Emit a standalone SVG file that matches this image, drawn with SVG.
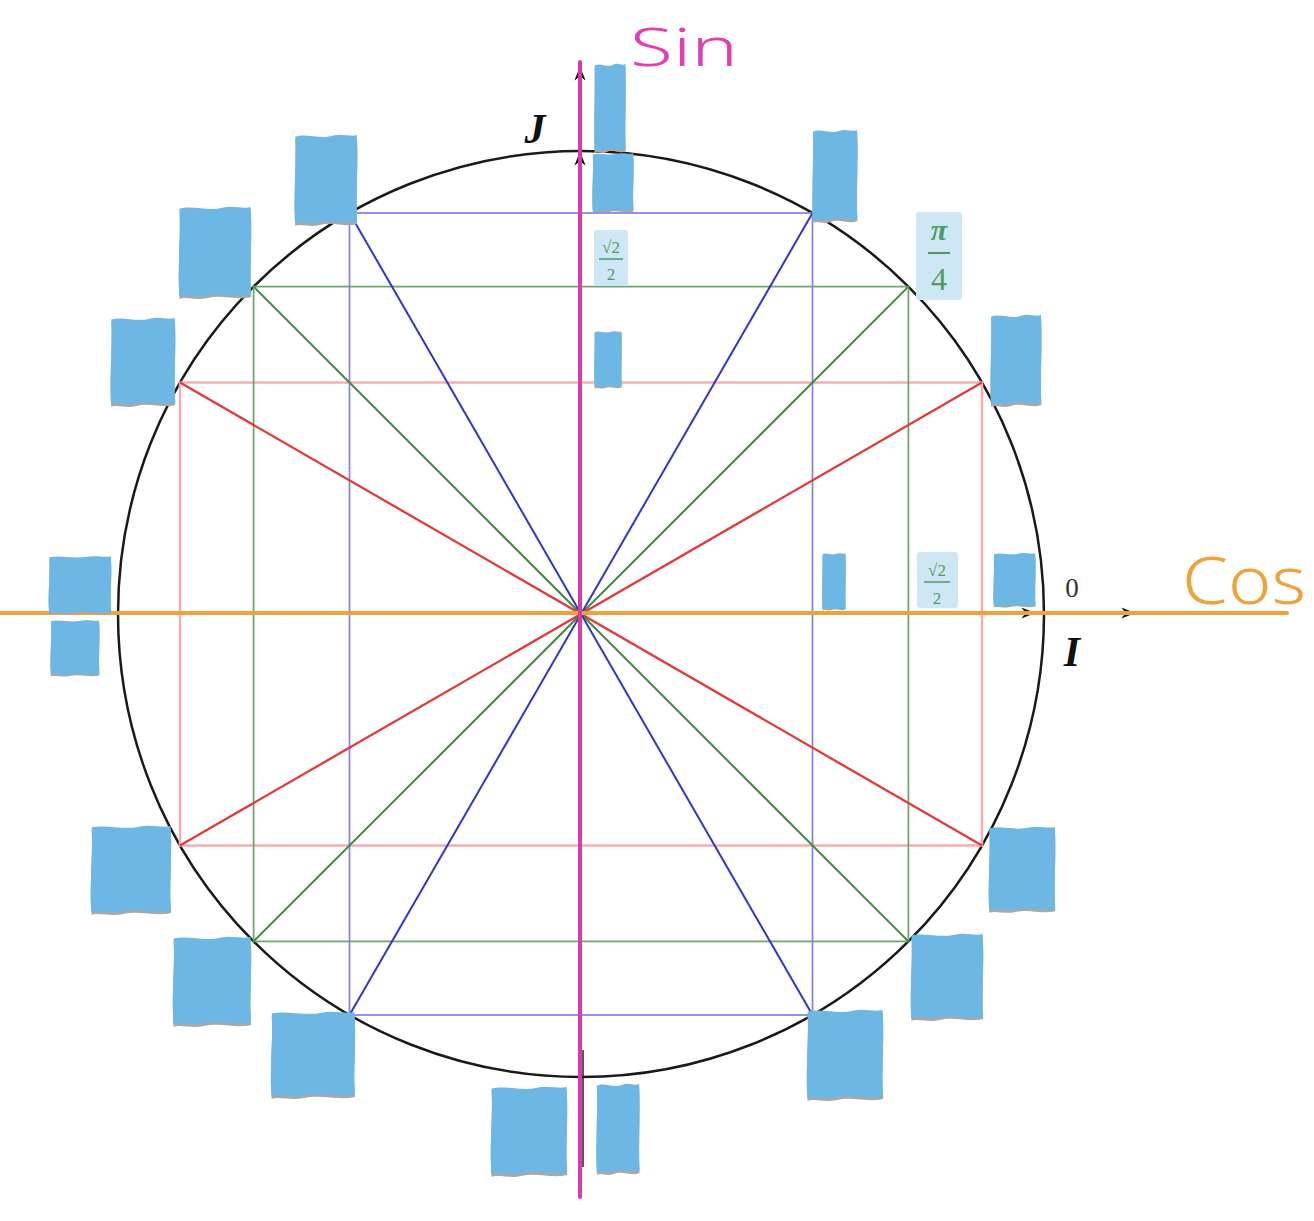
<svg xmlns="http://www.w3.org/2000/svg" width="1314" height="1221" viewBox="0 0 1314 1221">
<style>
.circ{fill:none;stroke:#1a1a1a;stroke-width:2.5}
.rr{stroke:#f4aeb0;stroke-width:2.5;fill:none}
.gr{stroke:#6fa86f;stroke-width:1.8;fill:none}
.br{stroke:#8a85e0;stroke-width:1.8;fill:none}
.rd{stroke:#e23a3a;stroke-width:2.3}
.gd{stroke:#3f8a3f;stroke-width:2}
.bd{stroke:#3434c4;stroke-width:2}
.lbl{fill:#cde7f5}
.lt{font-family:"Liberation Serif",serif;fill:#4f9a62;text-anchor:middle}
.hand{font-family:"Noto Sans",sans-serif;font-weight:300}
</style>
<defs>
<path id="blobp" d="M2,4 C20,0 40,7 60,3 C75,0 90,5 98,2 C101,30 96,70 99,96 C80,100 60,93 40,97 C25,100 10,95 2,98 C-1,70 4,30 2,4 Z"/>
<g id="blob"><use href="#blobp" fill="#a8a8a8" transform="translate(0,3)"/><use href="#blobp" fill="#6cb7e3"/></g>
<marker id="ah" viewBox="0 0 10 10" refX="9" refY="5" markerWidth="16" markerHeight="14" markerUnits="userSpaceOnUse" orient="auto"><path d="M0,1 L10,5 L0,9 L3,5 Z" fill="#111"/></marker>
</defs>

<g id="circle"><circle class="circ" cx="581" cy="614" r="463"/></g>

<g id="rectangles">
<rect class="rr" x="180" y="382.5" width="802" height="463"/>
<rect class="gr" x="253.6" y="286.6" width="654.8" height="654.8"/>
<rect class="br" x="349.5" y="213" width="463" height="802"/>
</g>

<g id="connectors">
<line class="rd" x1="982" y1="382.5" x2="180" y2="845.5"/>
<line class="rd" x1="180" y1="382.5" x2="982" y2="845.5"/>
<line class="gd" x1="908.4" y1="286.6" x2="253.6" y2="941.4"/>
<line class="gd" x1="253.6" y1="286.6" x2="908.4" y2="941.4"/>
<line class="bd" x1="812.5" y1="213" x2="349.5" y2="1015"/>
<line class="bd" x1="349.5" y1="213" x2="812.5" y2="1015"/>
<line x1="583" y1="1050" x2="583" y2="1167" stroke="#222" stroke-width="1.5"/>
<line x1="1000" y1="613" x2="1034" y2="613" stroke="#111" stroke-width="1" marker-end="url(#ah)"/>
<line x1="1100" y1="613" x2="1134" y2="613" stroke="#111" stroke-width="1" marker-end="url(#ah)"/>
<line x1="580" y1="185" x2="580" y2="153" stroke="#111" stroke-width="1" marker-end="url(#ah)"/>
<line x1="580" y1="100" x2="580" y2="68" stroke="#111" stroke-width="1" marker-end="url(#ah)"/>
<line id="cos-axis" x1="0" y1="613" x2="1287" y2="613" stroke="#eca33c" stroke-width="4" stroke-linecap="round"/>
<line id="sin-axis" x1="580" y1="62" x2="580" y2="1197" stroke="#d83caa" stroke-width="4" stroke-linecap="round"/>
</g>

<g id="blobs">
<use href="#blob" transform="translate(594,62) scale(0.32,0.9)"/>
<use href="#blob" transform="translate(592,152) scale(0.42,0.6)"/>
<use href="#blob" transform="translate(294,133) scale(0.64,0.92)"/>
<use href="#blob" transform="translate(812,128) scale(0.46,0.94)"/>
<use href="#blob" transform="translate(178,205) scale(0.74,0.93)"/>
<use href="#blob" transform="translate(594,330) scale(0.28,0.58)"/>
<use href="#blob" transform="translate(110,316) scale(0.66,0.9)"/>
<use href="#blob" transform="translate(990,313) scale(0.52,0.93)"/>
<use href="#blob" transform="translate(48,555) scale(0.64,0.59)"/>
<use href="#blob" transform="translate(50,619) scale(0.5,0.57)"/>
<use href="#blob" transform="translate(822,552) scale(0.24,0.58)"/>
<use href="#blob" transform="translate(993,552) scale(0.43,0.55)"/>
<use href="#blob" transform="translate(90,824) scale(0.82,0.9)"/>
<use href="#blob" transform="translate(988,825) scale(0.68,0.87)"/>
<use href="#blob" transform="translate(172,935) scale(0.8,0.91)"/>
<use href="#blob" transform="translate(910,932) scale(0.74,0.88)"/>
<use href="#blob" transform="translate(270,1010) scale(0.86,0.88)"/>
<use href="#blob" transform="translate(806,1008) scale(0.78,0.92)"/>
<use href="#blob" transform="translate(490,1085) scale(0.78,0.91)"/>
<use href="#blob" transform="translate(596,1082) scale(0.44,0.92)"/>
</g>

<g id="label-sqrt2-top">
<rect class="lbl" x="594" y="230" width="34" height="56" rx="3"/>
<text class="lt" x="611" y="253" font-size="17">√2</text>
<line x1="599" y1="259" x2="623" y2="259" stroke="#4f9a62" stroke-width="1.5"/>
<text class="lt" x="611" y="280" font-size="17">2</text>
</g>
<g id="label-pi4">
<rect class="lbl" x="916" y="212" width="46" height="88" rx="3"/>
<text class="lt" x="939" y="240" font-size="30" font-style="italic" font-weight="bold">π</text>
<line x1="928" y1="253" x2="950" y2="253" stroke="#4f9a62" stroke-width="2"/>
<text class="lt" x="939" y="290" font-size="32">4</text>
</g>
<g id="label-sqrt2-right">
<rect class="lbl" x="917" y="552" width="41" height="56" rx="3"/>
<text class="lt" x="937" y="576" font-size="17">√2</text>
<line x1="924" y1="582" x2="950" y2="582" stroke="#4f9a62" stroke-width="1.5"/>
<text class="lt" x="937" y="604" font-size="17">2</text>
</g>

<g id="texts">
<text x="1072" y="597" font-family="Liberation Serif,serif" font-size="27" fill="#333" text-anchor="middle">0</text>
<text x="1072" y="666" font-family="Liberation Serif,serif" font-size="42" font-weight="bold" fill="#111" text-anchor="middle" font-style="italic">I</text>
<text x="535" y="143" font-family="Liberation Serif,serif" font-size="42" font-weight="bold" fill="#111" text-anchor="middle" font-style="italic">J</text>
<text class="hand" x="630" y="66" font-size="54" fill="#e03fb0" textLength="108" lengthAdjust="spacingAndGlyphs">Sin</text>
<text class="hand" x="1182" y="604" font-size="66" fill="#eca33c" textLength="124" lengthAdjust="spacingAndGlyphs">Cos</text>
</g>
</svg>
